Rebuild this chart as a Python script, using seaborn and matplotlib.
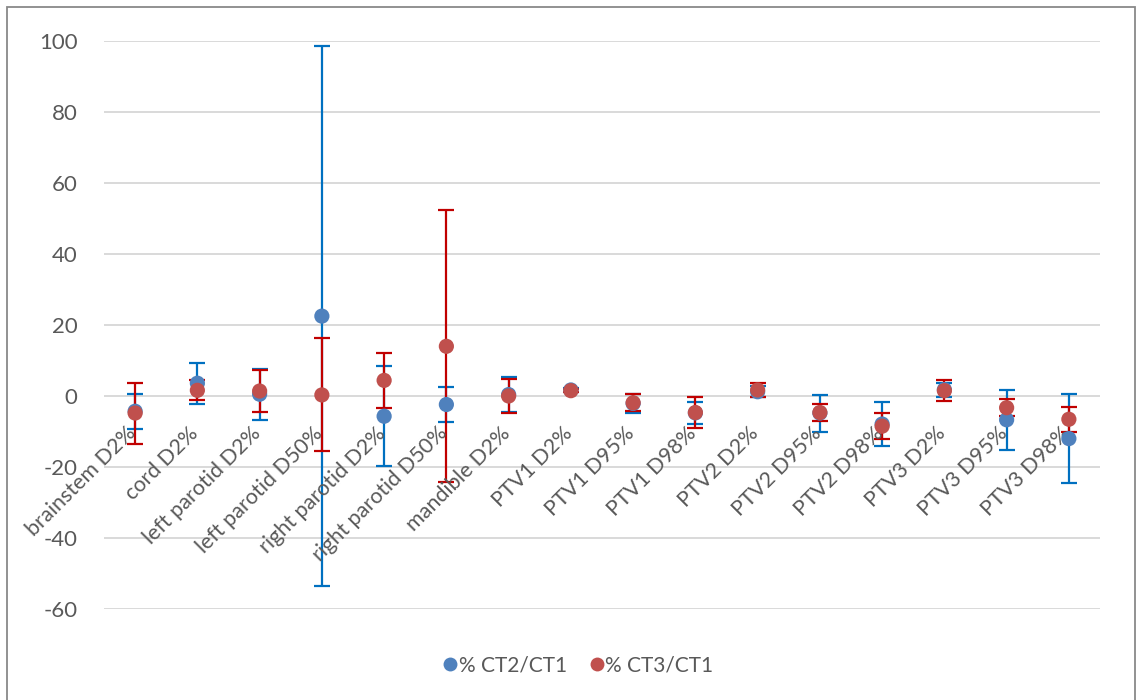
import matplotlib
matplotlib.use("Agg")
import matplotlib.pyplot as plt
import matplotlib.transforms as mtransforms
from matplotlib.lines import Line2D
from matplotlib.patches import Rectangle
import numpy as np
import pandas as pd
import seaborn as sns

# Dose-metric structures
categories = [
    "brainstem D2%", "cord D2%", "left parotid D2%", "left parotid D50%",
    "right parotid D2%", "right parotid D50%", "mandible D2%", "PTV1 D2%",
    "PTV1 D95%", "PTV1 D98%", "PTV2 D2%", "PTV2 D95%", "PTV2 D98%",
    "PTV3 D2%", "PTV3 D95%", "PTV3 D98%",
]

# Mean percentage difference and its spread for each comparison
ct2_mean = [-4.3, 3.6, 0.5, 22.5, -5.7, -2.4, 0.4, 1.7, -2.1, -4.75, 1.2, -4.8, -7.9, 1.8, -6.7, -12.0]
ct2_err = [5.0, 5.8, 7.2, 76.1, 14.1, 5.0, 4.9, 0.6, 2.6, 3.15, 1.5, 5.2, 6.1, 2.0, 8.4, 12.6]
ct3_mean = [-4.8, 1.6, 1.4, 0.3, 4.4, 14.0, 0.0, 1.5, -1.9, -4.65, 1.7, -4.65, -8.5, 1.5, -3.3, -6.55]
ct3_err = [8.6, 2.8, 5.8, 15.9, 7.8, 38.3, 4.8, 0.5, 2.4, 4.45, 1.9, 2.35, 3.6, 3.0, 2.4, 3.55]

series_names = ["% CT2/CT1", "% CT3/CT1"]
y_ticks = [-60, -40, -20, 0, 20, 40, 60, 80, 100]

marker_colors = {"% CT2/CT1": "#4F81BD", "% CT3/CT1": "#C0504D"}
err_colors = {"% CT2/CT1": "#0070C0", "% CT3/CT1": "#C00000"}
text_color = "#595959"

sns.set_theme(style="white")
plt.rcParams["font.family"] = ["Lato", "DejaVu Sans"]

fig = plt.figure(figsize=(11.39, 7.0), dpi=100)
W, H = 1139, 700
ax = fig.add_axes([104 / W, 1 - 609 / H, (1100 - 104) / W, (609 - 41) / H])

x = np.arange(len(categories))
df = pd.DataFrame({
    "pos": np.concatenate([x, x]),
    "value": ct2_mean + ct3_mean,
    "err": ct2_err + ct3_err,
    "series": [series_names[0]] * len(x) + [series_names[1]] * len(x),
})

# Error bars first, then the markers over them
for z, name in enumerate(series_names):
    sub = df[df["series"] == name]
    ax.errorbar(sub["pos"], sub["value"], yerr=sub["err"], fmt="none",
                ecolor=err_colors[name], elinewidth=1.6, capsize=5.5,
                capthick=1.6, zorder=2 + z)

sns.scatterplot(data=df, x="pos", y="value", hue="series",
                palette=marker_colors, s=120, edgecolor="none",
                legend=False, ax=ax, zorder=5)

ax.set_xlim(-0.5, len(categories) - 0.5)
ax.set_ylim(-60, 100)
ax.set_yticks(y_ticks)
ax.set_yticklabels([str(t) for t in y_ticks], fontsize=16, color=text_color)
ax.tick_params(axis="y", length=0, pad=19)
ax.set_xticks([])
ax.set_xlabel("")
ax.set_ylabel("")
ax.grid(axis="y", color="#D9D9D9", linewidth=1.4)
ax.set_axisbelow(True)
for sp in ax.spines.values():
    sp.set_visible(False)

# Category labels hang diagonally from the zero line
for i, lab in enumerate(categories):
    tr = mtransforms.offset_copy(ax.transData, fig=fig, x=-9, y=-27, units="dots")
    ax.text(i, 0, lab, transform=tr, rotation=45, rotation_mode="anchor",
            ha="right", va="top", fontsize=15.5, color=text_color)

handles = [Line2D([], [], linestyle="none", marker="o", markersize=10,
                  markerfacecolor=marker_colors[n], markeredgecolor="none")
           for n in series_names]
fig.legend(handles, series_names, loc="center", bbox_to_anchor=(0.508, 1 - 665 / H),
           ncol=2, frameon=False, fontsize=15, handlelength=0.6,
           handletextpad=0.1, columnspacing=1.15, labelcolor=text_color)

# Chart frame
fig.patches.append(Rectangle((7 / W, -0.05), (1135 - 7) / W, 1.05 - 7 / H,
                             transform=fig.transFigure, fill=False,
                             edgecolor="#898989", linewidth=1.3))

fig.savefig("out.png", dpi=100)
